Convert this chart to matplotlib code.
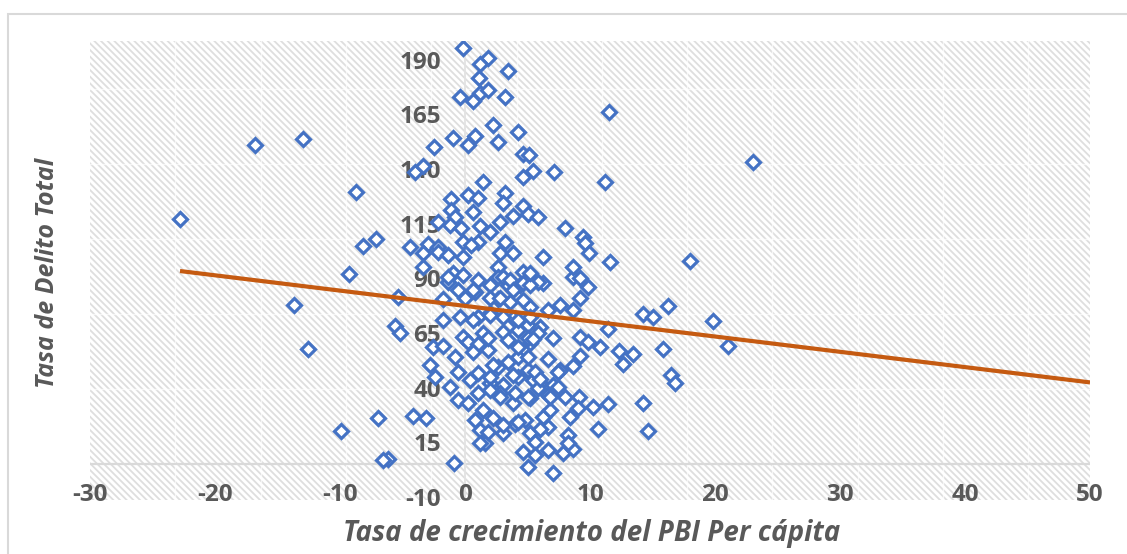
import numpy as np
import matplotlib
matplotlib.use("Agg")
import matplotlib.pyplot as plt
from matplotlib.patches import Rectangle

plt.rcParams['font.family'] = ['Open Sans', 'DejaVu Sans']
plt.rcParams['hatch.linewidth'] = 1.3

# --- datos ---
tasa_pbi = [
    -0.2, 1.8, 1.2, 3.4, 1.1, -0.4, 0.6, 1.2, 1.8, 3.2, 2.2, 4.2, -1.0, 0.8, 0.2, 2.6,
    -2.5, 4.6, 5.1, -4.0, -3.4, 1.4, 4.6, 5.4, 0.2, -1.1, 1.0, 3.2, 3.0, -1.1, 0.6, 4.6,
    5.0, 5.8, 3.8, 2.8, -0.8, -1.2, -0.3, -2.2, 1.2, 2.0, -0.2, -4.4, -3.0, -2.2, 1.0, 3.2,
    7.1, 11.2, 11.5, 8.0, 9.4, 9.6, 9.9, 11.6, 18.0, 23.0, 6.2,
    -22.8, -16.8, -13.0, -8.7, -9.3, -8.2, -7.1, -13.7, -12.6, -7.0, -9.9, -6.2, -6.6,
    -5.6, -5.2, -5.4, -4.2, -3.1, -0.9,
    -3.4, -2.2, -3.4, -1.4, -1.0, -0.2, 1.0, 2.6, 2.8, 3.8, -0.2, -1.4, 4.6, 2.0, -1.8,
    -0.2, -2.8, -0.8, -2.4, -1.2, -0.6, 0.2, 1.6, 0.8, 4.6, 5.0,
    2.6, 3.4, 4.4, 6.2, 8.6, 9.2, 9.8, -1.8, 0.0, 0.8, 2.6, 3.6, 5.2, 7.6, 9.2, 8.6, 6.6,
    -0.4, 1.0, 2.0, 3.8, 5.0, 6.0, 3.0, 1.4, 4.2, 11.4, 14.2, 15.0, 16.2, 19.8, 21.0,
    -2.6, -1.8, 0.2, 1.0, 3.4, 5.2, 7.0, 9.2, 9.8, 10.8, 12.3, 13.4, 12.6, 15.8,
    0.6, 1.8, 2.6, 4.2, 6.6, 8.6, 9.2, -0.6, 0.4, 1.0, 2.0, 3.0, 4.2, 5.0, 6.0, 7.0, 7.6,
    16.5, 16.8, 1.0, 2.8, 3.8, 5.2, 6.6, 8.0, 9.1, 10.2, 11.4, 14.2, 14.6, 10.6,
    1.4, 2.2, 4.0, 4.8, 6.2, 8.4, 1.2, 3.0, 5.2, 6.6, 5.6, 8.2, 6.6, 7.8, 8.6, 7.0,
    8.6, 7.4, 7.4, 9.0, 6.8, 8.2,
    0.5, -1.4, 3.0, 3.6, 4.6, 5.8, -0.6, 0.6, 2.0, 2.8, 3.8, 4.6, 0.6, 2.0, 3.0, 4.2, 5.2,
    1.8, 5.0, 5.8, 4.2, 5.0, 3.4, 2.2, 2.0, 3.8, 5.4, 5.8, 5.0, 4.0, 2.8, 2.0, 3.0, 4.2,
    1.8, 1.2, 5.2, 5.2, 5.4, 5.6, 6.0, 6.8, 6.0, 5.6,
]
tasa_delito = [
    197.0, 192.0, 189.3, 186.5, 182.9, 174.6, 172.4, 176.0, 177.4, 174.2, 161.4, 158.2,
    155.5, 156.4, 152.3, 153.6, 151.4, 148.2, 147.7, 139.9, 142.7, 135.4, 137.6, 140.4,
    129.4, 127.6, 128.1, 130.3, 125.8, 122.6, 121.7, 124.4, 120.7, 119.4, 119.8, 117.1,
    119.4, 115.7, 114.3, 117.1, 115.3, 112.5, 108.0, 105.7, 107.0, 105.7, 108.0, 108.0,
    139.9, 135.4, 167.3, 114.3, 110.2, 107.5, 102.9, 98.8, 99.3, 144.5, 101.1,
    118.5, 152.3, 155.0, 130.8, 93.3, 106.1, 109.3, 79.2, 59.1, 27.6, 21.6, 8.8, 8.4,
    69.6, 66.4, 82.8, 28.5, 27.6, 7.0,
    102.9, 103.4, 96.5, 89.7, 93.8, 92.9, 90.6, 96.5, 102.9, 102.9, 101.1, 102.0, 94.3,
    88.3, 72.3, 64.6, 51.8, 55.4, 46.3, 41.7, 35.8, 34.4, 16.1, 26.6, 12.0, 5.2,
    92.0, 88.3, 88.3, 89.2, 92.0, 91.5, 87.4, 81.9, 82.4, 85.1, 81.9, 80.5, 78.3, 79.2,
    82.4, 76.9, 76.9,
    73.7, 73.7, 75.5, 73.2, 70.0, 69.1, 66.8, 66.4, 67.8, 68.2, 75.1, 73.7, 78.7, 71.9, 60.4,
    60.0, 60.4, 62.3, 61.4, 63.2, 61.8, 64.1, 64.6, 62.3, 60.0, 58.2, 56.8, 52.2, 59.1,
    57.7, 58.6, 50.9, 55.4, 54.5, 51.3, 55.9, 48.6, 44.9, 48.1, 43.5, 42.6, 46.3, 49.5,
    43.5, 42.6, 49.5,
    47.2, 43.5, 39.0, 39.0, 34.4, 36.7, 38.1, 37.2, 37.2, 32.6, 34.0, 34.4, 21.6, 22.5,
    31.2, 27.6, 24.8, 26.6, 28.0, 28.0, 22.1, 20.7, 20.7, 23.4, 16.6, 19.8, 13.0, 11.6,
    13.4, 2.4,
    96.5, 48.6, 41.7, 32.1, 31.2, 16.1,
    106.6, 92.0, 92.0, 90.6, 89.2, 89.7, 86.0, 86.0, 82.4, 82.4, 86.0, 81.5, 72.3, 74.6,
    73.7, 72.3, 73.7,
    64.1, 64.1, 66.4, 60.0, 55.4, 53.1, 51.8, 46.3, 47.2, 44.9, 41.3, 37.2, 39.0, 37.2,
    40.3, 24.4, 25.7,
    21.2, 16.1, 88.3, 93.8, 63.5, 48.6, 45.2, 37.2, 22.5, 10.7,
]

# tendencia lineal
pendiente = -0.70
intercepto = 78.8

x_ticks = [-30, -20, -10, 0, 10, 20, 30, 40, 50]
y_ticks = [-10, 15, 40, 65, 90, 115, 140, 165, 190]

gris_texto = '#595959'

fig = plt.figure(figsize=(11.27, 5.54), dpi=100)
ax = fig.add_axes([90 / 1127, 1 - 500 / 554, 1000 / 1127, 459 / 554])
ax.set_xlim(-30, 50)
ax.set_ylim(-10, 200)
for s in ax.spines.values():
    s.set_visible(False)
ax.set_xticks([])
ax.set_yticks([])

# fondo rayado
ax.add_patch(Rectangle((0, 0), 1, 1, transform=ax.transAxes, facecolor='white',
                       edgecolor='#dedede', hatch='\\\\\\\\\\', linewidth=0, zorder=0))

# lineas de cuadricula tenues
for k in range(1, 6):
    ax.axhline(6.5 + 34.27 * k, color='white', lw=1.0, alpha=0.7, zorder=0.5)
for k in range(1, 12):
    ax.axvline(-30 + 6.824 * k, color='white', lw=1.0, alpha=0.7, zorder=0.5)

# ejes
ax.axhline(6.5, color='#d9d9d9', lw=1.6, zorder=1)
ax.axvline(0, color='#e3e3e3', lw=1.3, zorder=1)

# etiquetas de ejes
for t in y_ticks:
    ax.text(-1.9, t, str(t), ha='right', va='center', fontsize=17.5, fontweight='bold',
            color=gris_texto, zorder=1.5, clip_on=False)
for t in x_ticks:
    ax.text(t, -7.6, str(t), ha='center', va='center', fontsize=17.5, fontweight='bold',
            color=gris_texto, zorder=1.5, clip_on=False)

# puntos
ax.plot(tasa_pbi, tasa_delito, linestyle='none', marker='D', markersize=7.6,
        markerfacecolor='white', markeredgecolor='#4472C4', markeredgewidth=2.3, zorder=3)

# linea de tendencia
xt = np.array([min(tasa_pbi), 50])
ax.plot(xt, intercepto + pendiente * xt, color='#C55A11', lw=3.0, zorder=4,
        solid_capstyle='butt')

fig.text(592 / 1127, 1 - 533 / 554, 'Tasa de crecimiento del PBI Per cápita',
         ha='center', va='center', fontsize=20, fontweight='bold', fontstyle='italic',
         color=gris_texto)
fig.text(48 / 1127, 1 - 273 / 554, 'Tasa de Delito Total', rotation=90,
         ha='center', va='center', fontsize=18, fontweight='bold', fontstyle='italic',
         color=gris_texto)

# borde del grafico
fig.patches.append(Rectangle((8 / 1127, -0.1), 1.2, 1.1 - 14 / 554,
                             transform=fig.transFigure, fill=False,
                             edgecolor='#d9d9d9', lw=1.5))

fig.savefig('out.png', dpi=100, facecolor='white')
